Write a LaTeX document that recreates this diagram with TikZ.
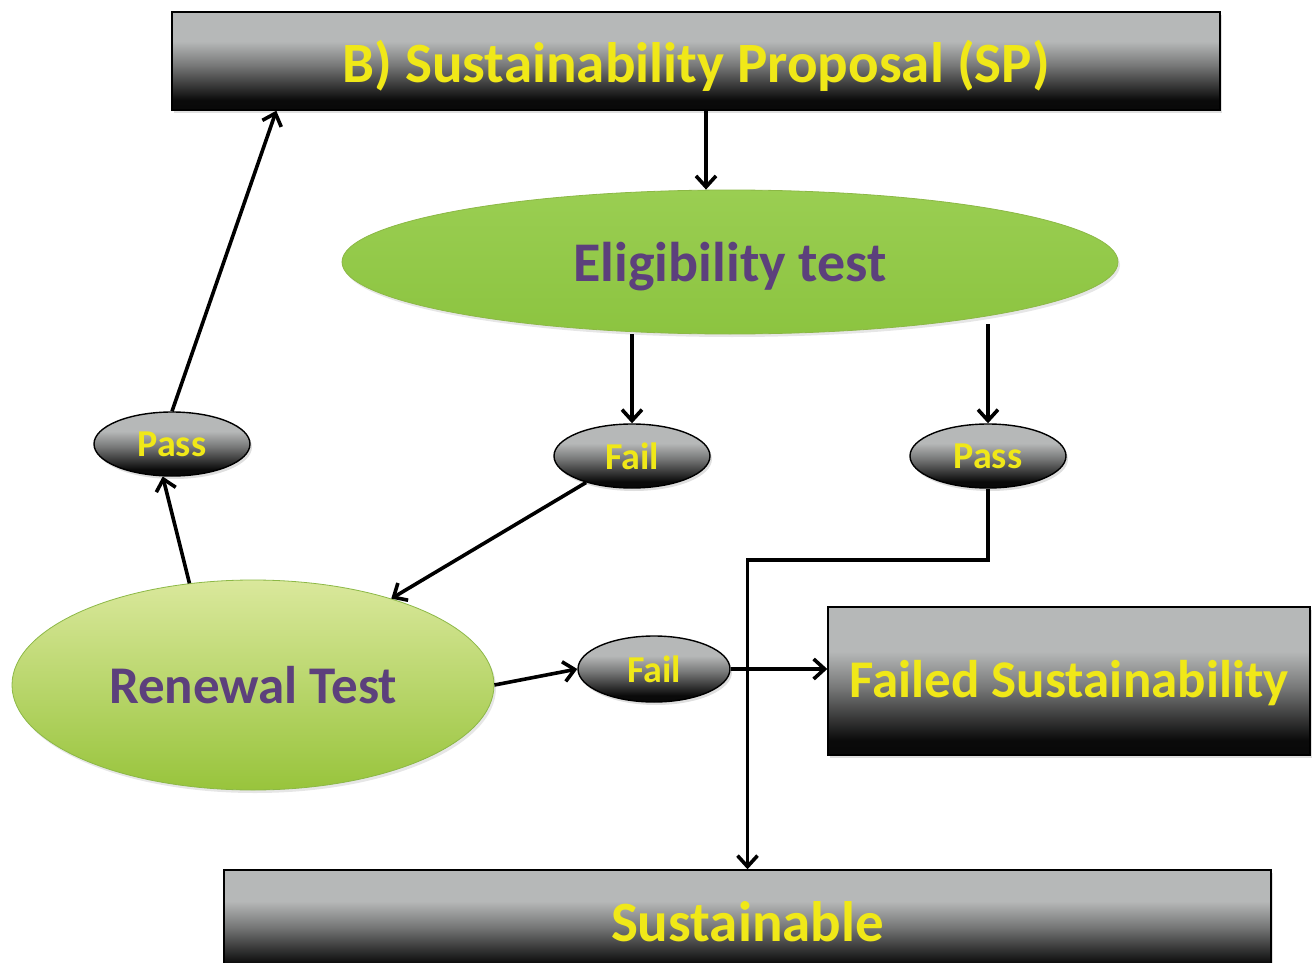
\documentclass[tikz,border=0pt]{standalone}
\usepackage{fontspec}
\setmainfont{Carlito}
\usepackage{xcolor}
\usetikzlibrary{shapes.geometric, arrows.meta, positioning, calc, shadows}
\definecolor{spyellow}{RGB}{240,232,24}
\definecolor{sppurple}{RGB}{92,64,124}
\definecolor{bannertop}{RGB}{182,184,184}
\definecolor{bannermid}{RGB}{120,121,121}
\definecolor{eligtop}{RGB}{154,206,82}
\definecolor{eligbot}{RGB}{140,196,64}
\definecolor{renewtop}{RGB}{218,232,156}
\definecolor{renewbot}{RGB}{152,196,60}
\definecolor{greenline}{RGB}{140,184,70}
% grey on top, black at the foot
\pgfdeclareverticalshading{bannershade}{100bp}{color(0bp)=(black); color(30bp)=(black!96);
  color(48bp)=(bannermid); color(60bp)=(bannertop); color(100bp)=(bannertop)}
\tikzset{
  banner/.style={
    rectangle, draw=black, line width=1.4pt, inner sep=0pt,
    shading=bannershade, text=spyellow,
    font=\fontsize{57}{60}\selectfont\bfseries,
    drop shadow={shadow xshift=2pt, shadow yshift=-3pt, opacity=0.25}},
  verdict/.style={
    ellipse, draw=black, line width=1.4pt, inner sep=0pt,
    shading=bannershade, text=spyellow,
    minimum width=156pt, minimum height=64pt,
    font=\fontsize{38}{40}\selectfont\bfseries,
    drop shadow={shadow xshift=2pt, shadow yshift=-3pt, opacity=0.25}},
  testnode/.style={
    ellipse, draw=greenline, line width=0.8pt, inner sep=0pt,
    text=sppurple, font=\fontsize{56}{60}\selectfont\bfseries,
    drop shadow={shadow xshift=2pt, shadow yshift=-3pt, opacity=0.2}},
  arr/.style={-{Straight Barb[length=11pt,width=20pt]}, line width=3.6pt, draw=black},
}

\begin{document}
\begin{tikzpicture}[x=1pt, y=-1pt]
\useasboundingbox (0,0) rectangle (1315,963);

\node[banner, minimum width=1048pt, minimum height=98pt, text depth=0pt] (sp) at (696,61) {B) Sustainability Proposal (SP)};
\node[testnode, top color=eligtop, bottom color=eligbot, text depth=0pt,
      minimum width=776pt, minimum height=144pt] (elig) at (730,262) {Eligibility test};

\node[verdict] (failA) at (632,456) {Fail};
\node[verdict] (passA) at (988,456) {Pass};
\node[verdict] (passB) at (172,444) {Pass};

\node[testnode, top color=renewtop, bottom color=renewbot,
      minimum width=482pt, minimum height=210pt,
      font=\fontsize{53}{56}\selectfont\bfseries] (renew) at (253,685) {Renewal Test};
\node[verdict, minimum width=152pt, minimum height=66pt] (failB) at (654,669) {Fail};

\node[banner, minimum width=482pt, minimum height=148pt, text depth=4pt,
      font=\fontsize{53}{56}\selectfont\bfseries] (failed) at (1069,681) {Failed Sustainability};
\node[banner, minimum width=1047pt, minimum height=104pt] (sust) at (747.5,922) {Sustainable};

\coordinate (jog) at (747.5,560);

\draw[arr] ($(sp.south)+(10,0)$) -- ($(elig.north)+(-24,0)$);
\draw[arr] (failA.north |- elig.south) -- (failA.north);
\draw[arr] ($(elig.center)+(258,62)$) -- (passA.north);
\draw[arr] (failA.210) -- (renew.32);
\draw[arr] (renew.122) -- (passB.254);
\draw[arr] (passB.north) -- ($(sp.south west)+(105,0)$);
\draw[arr] (renew.east) -- (failB.west);
\draw[arr] (failB.east) -- (failB.east -| failed.west);
\draw[arr] (passA.south) |- (jog) -- (sust.north);

\end{tikzpicture}
\end{document}
